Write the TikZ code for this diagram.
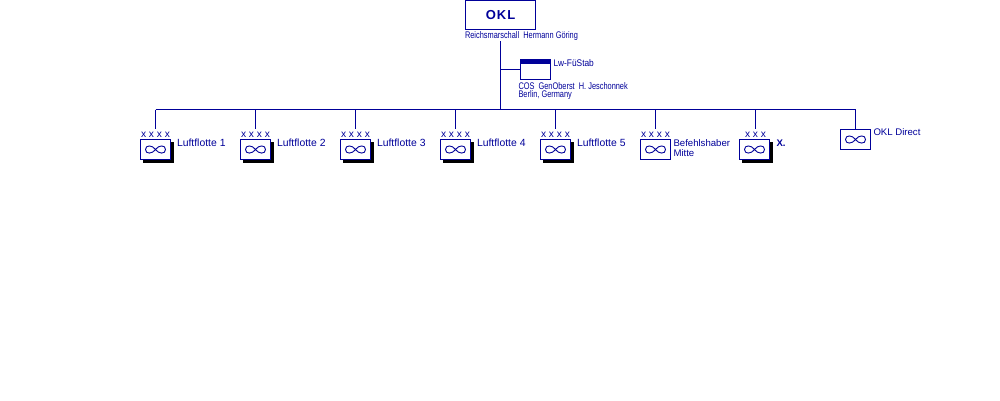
\documentclass[tikz,border=0pt]{standalone}
\usepackage{fontspec}
\usetikzlibrary{shadows}
\setmainfont{Liberation Sans}
\newfontfamily\narrowfont[FakeStretch=.77]{Liberation Sans}
\newfontfamily\stabfont[FakeStretch=.87]{Liberation Sans}
\definecolor{navy}{RGB}{0,0,153}

\begin{document}
\begin{tikzpicture}
  [x=1pt,y=-1pt,line width=1pt,color=navy,
   every node/.style={inner sep=0pt,outer sep=0pt,text=navy},
   lbl/.style={font=\fontsize{9.6}{10}\selectfont,anchor=west,align=left},
   lflbl/.style={font=\fontsize{10.4}{11}\selectfont,anchor=west},
   narrowlbl/.style={font=\narrowfont\fontsize{9.6}{10}\selectfont,anchor=west},
   rank/.style={font=\fontsize{10.2}{10}\selectfont},
   unit/.style={draw=navy,fill=white,minimum width=30pt,minimum height=20pt},
   shadowed/.style={copy shadow={shadow xshift=3pt,shadow yshift=-3pt,fill=black,draw=black}},
   wings/.pic={\draw[line width=.9pt] (0,0) .. controls (-3,-4.5) and (-10,-5) .. (-10,0)
      .. controls (-10,5) and (-3,4.5) .. (0,0) .. controls (3,-4.5) and (10,-5) .. (10,0)
      .. controls (10,5) and (3,4.5) .. (0,0);}]
  \useasboundingbox (0,0) rectangle (1000,400);

  \node[draw=navy,minimum width=70pt,minimum height=29pt] (okl) at (500.5,15) {\fontsize{13}{15}\selectfont\bfseries O\kern1ptK\kern1ptL};
  \node[narrowlbl] (oklname) at (465,36) {Reichsmarschall\ \ Hermann Göring};

  \node[draw=navy,minimum width=30pt,minimum height=20pt] (stab) at (535.5,69.5) {};
  \fill[navy] (stab.north west) rectangle ([yshift=-4pt]stab.north east);
  \node[lbl,font=\stabfont\fontsize{9.6}{10}\selectfont] (stabname) at (553.5,63) {Lw-FüStab};
  \node[narrowlbl] (stabcos) at (518.5,86) {COS\ \ GenOberst\ \ H. Jeschonnek};
  \node[narrowlbl] (stabloc) at (518.5,95) {Berlin, Germany};

  \coordinate (trunk) at (500.5,41);
  \coordinate (hub) at (500.5,109.5);
  \coordinate (tee) at (500.5,69.5);
  \draw (trunk) -- (hub);
  \draw (tee) -- (stab.west);

  \foreach \id/\x/\y/\rk/\name in {
      1/155.5/149.5/x x x x/Luftflotte 1,
      2/255.5/149.5/x x x x/Luftflotte 2,
      3/355.5/149.5/x x x x/Luftflotte 3,
      4/455.5/149.5/x x x x/Luftflotte 4,
      5/555.5/149.5/x x x x/Luftflotte 5}
  {
    \coordinate (top\id) at (\x,109.5);
    \node[unit,shadowed] (lf\id) at (\x,\y) {};
    \pic at (lf\id.center) {wings};
    \node[rank] (rk\id) at (\x,135) {\rk};
    \node[lflbl] at (\x+21.5,142.5) {\name};
    \draw (top\id) -- (\x,129);
  }

  \coordinate (top6) at (655.5,109.5);
  \node[unit] (lf6) at (655.5,149.5) {};
  \pic at (lf6.center) {wings};
  \node[rank] (rk6) at (655.5,135) {x x x x};
  \node[lbl] (lbl6) at (673.5,148) {Befehlshaber\\Mitte};
  \draw (top6) -- (655.5,129);

  \coordinate (top7) at (755.5,109.5);
  \node[unit,shadowed] (lf7) at (754.5,149.5) {};
  \pic at (lf7.center) {wings};
  \node[rank] (rk7) at (755.5,135) {x x x};
  \node[lbl] (lbl7) at (776.5,143) {\bfseries X.};
  \draw (top7) -- (755.5,129);

  \coordinate (top8) at (855.5,109.5);
  \node[unit] (lf8) at (855.5,139.5) {};
  \pic at (lf8.center) {wings};
  \node[lbl] (lbl8) at (873.5,132.5) {OKL Direct};
  \draw (top8) -- (lf8.north);

  \draw (top1) -- (top8);
\end{tikzpicture}
\end{document}
